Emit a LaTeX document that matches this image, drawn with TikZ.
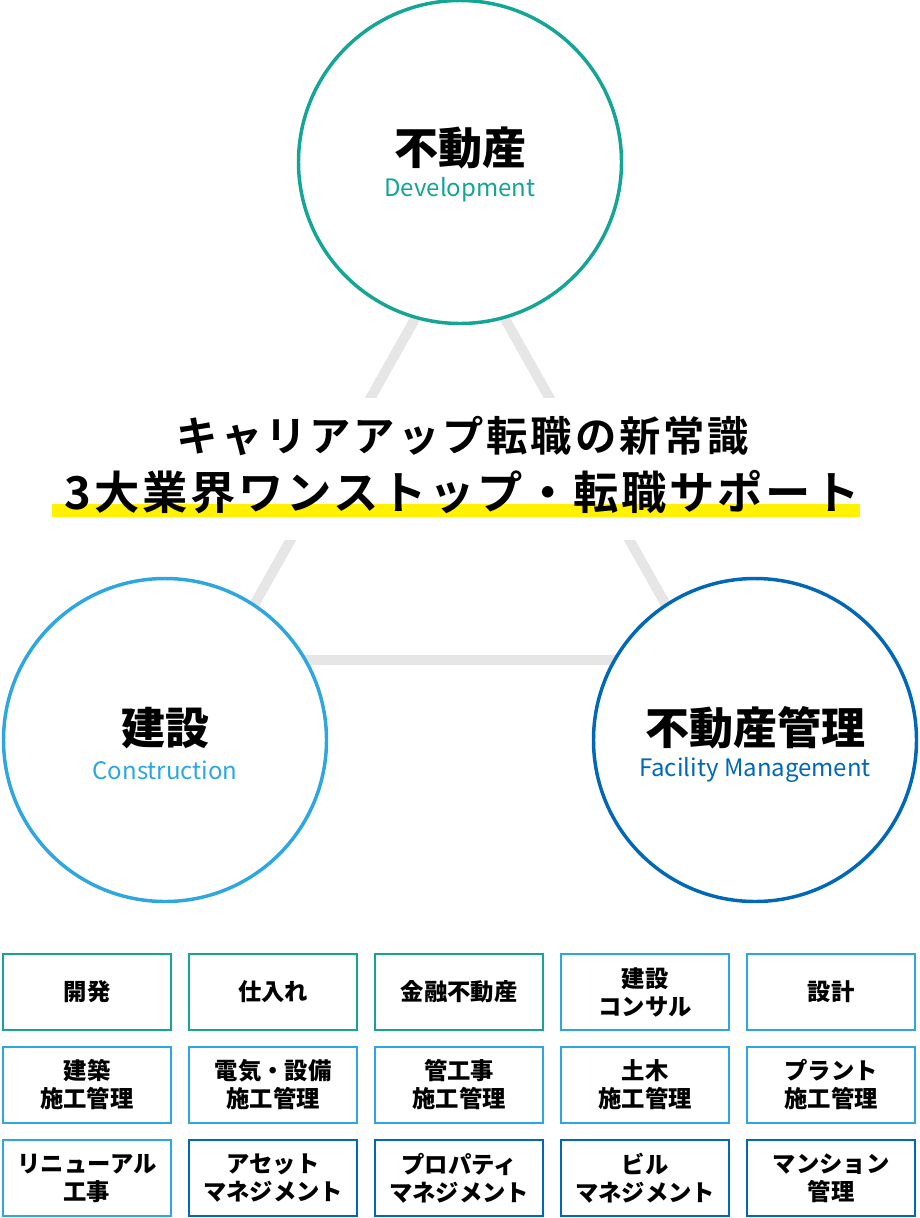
\documentclass[tikz,border=0pt]{standalone}
\usepackage{fontspec}
\setmainfont{Noto Sans CJK JP}
\newfontfamily\hone[LetterSpace=7]{Noto Sans CJK JP Bold}
\newfontfamily\htwo[LetterSpace=6]{Noto Sans CJK JP Bold}
\definecolor{teal1}{HTML}{14A595}
\definecolor{lblue}{HTML}{2EA7E0}
\definecolor{dblue}{HTML}{0068B7}
\definecolor{tri}{HTML}{E6E6E6}
\definecolor{hl}{HTML}{FFF100}
\begin{document}
\begin{tikzpicture}[x=0.75pt,y=-0.75pt,
  circ/.style={circle,draw,line width=2.6pt,fill=white,minimum size=323*0.75pt,inner sep=0},
  box/.style={draw,line width=2pt,minimum width=168*0.75pt,minimum height=76*0.75pt,align=center,font=\fontsize{17.5}{21}\selectfont\bfseries,inner sep=0},
  big/.style={font=\fontsize{33}{36}\selectfont\bfseries},
  sub/.style={font=\fontsize{18}{21}\selectfont}]
\useasboundingbox (0,0) rectangle (920,1218);
\coordinate (t) at (460,239); \coordinate (l) at (223,660); \coordinate (r) at (697,660);
\draw[tri,line width=7.5pt] (t) -- (l) -- (r) -- cycle;
\fill[white] (40,398) rectangle (880,540);
\node[circ,draw=teal1] (c1) at (460,162) {};
\node[circ,draw=lblue] (c2) at (165,740) {};
\node[circ,draw=dblue] (c3) at (755,740) {};
\node[big] at (460,148) {不動産};
\node[sub,text=teal1] at (460,190) {Development};
\node[big] at (165,728) {建設};
\node[sub,text=lblue] at (165,770) {Construction};
\node[big] at (755,728) {不動産管理};
\node[sub,text=dblue] at (755,770) {Facility Management};
\fill[hl] (52,504) rectangle (860,517);
\node[font=\fontsize{31}{32}\hone] (h1) at (463,436) {キャリアアップ転職の新常識};
\node[font=\fontsize{34}{36}\htwo] (h2) at (462,492) {3大業界ワンストップ・転職サポート};
\foreach \t/\c [count=\i from 0] in {開発/teal1,仕入れ/teal1,金融不動産/teal1,建設\\コンサル/lblue,設計/lblue}
  \node[box,draw=\c] (a\i) at (87+186*\i,992) {\t};
\foreach \t/\c [count=\i from 0] in {建築\\施工管理/lblue,電気・設備\\施工管理/lblue,管工事\\施工管理/lblue,土木\\施工管理/lblue,プラント\\施工管理/lblue}
  \node[box,draw=\c] (b\i) at (87+186*\i,1085) {\t};
\foreach \t/\c [count=\i from 0] in {リニューアル\\工事/lblue,アセット\\マネジメント/dblue,プロパティ\\マネジメント/dblue,ビル\\マネジメント/dblue,マンション\\管理/dblue}
  \node[box,draw=\c] (d\i) at (87+186*\i,1178) {\t};
\end{tikzpicture}
\end{document}
